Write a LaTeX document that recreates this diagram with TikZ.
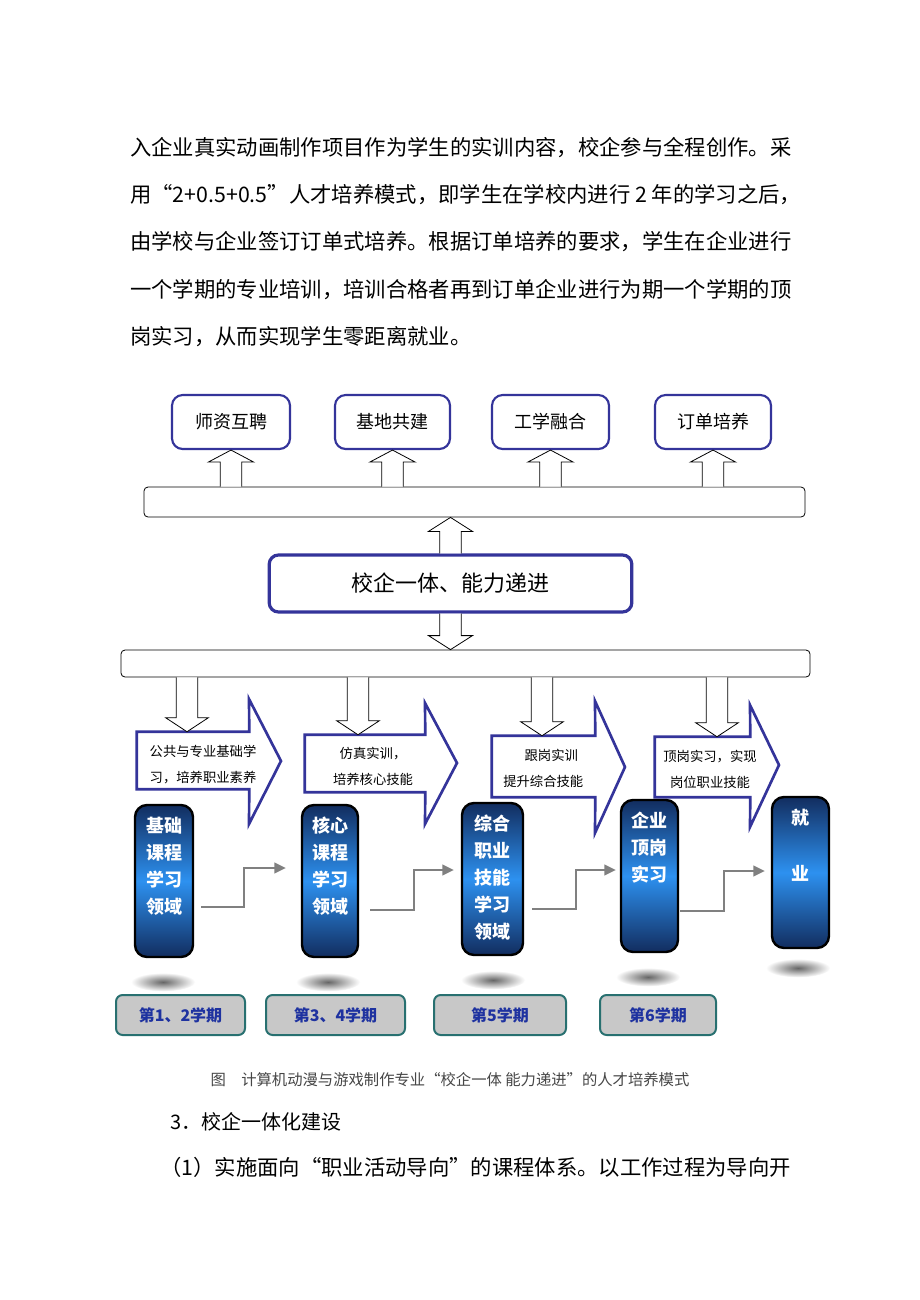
\documentclass[tikz,border=0pt]{standalone}
\usepackage{fontspec}
\setmainfont{Noto Sans CJK SC}
\usetikzlibrary{calc,arrows.meta}
\definecolor{navy}{RGB}{52,52,154}
\definecolor{pdark}{RGB}{18,45,95}
\definecolor{plight}{RGB}{45,145,240}
\definecolor{conngray}{RGB}{128,128,128}
\definecolor{semgray}{RGB}{200,200,200}
\definecolor{semedge}{RGB}{40,112,112}
\definecolor{semblue}{RGB}{30,50,160}
\definecolor{capgray}{RGB}{70,70,70}
\newcommand\vblk[5]{%
  \coordinate (vbS) at (#1);
  \coordinate (vbT) at (#2);
  \coordinate (vbH) at ($(vbT)!#5!(vbS)$);
  \draw[blk] ([xshift=-#3]vbS) -- ([xshift=-#3]vbH) -- ([xshift=-#4]vbH) -- (vbT)
    -- ([xshift=#4]vbH) -- ([xshift=#3]vbH) -- ([xshift=#3]vbS);
}
\begin{document}
\begin{tikzpicture}[x=0.75pt,y=-0.75pt,
  bodytext/.style={anchor=west, inner sep=0, font=\fontsize{16pt}{20pt}\selectfont},
  topbox/.style={draw=navy, line width=1.6pt, rounded corners=8pt, fill=white,
    minimum height=40.5pt, inner sep=0, font=\fontsize{13.5pt}{16pt}\selectfont},
  barbox/.style={draw=black, line width=0.6pt, rounded corners=3pt, fill=white, inner sep=0},
  central/.style={draw=navy, line width=2.4pt, rounded corners=7pt, fill=white,
    minimum width=272pt, minimum height=42.75pt, inner sep=0,
    font=\fontsize{16.5pt}{20pt}\selectfont},
  blk/.style={draw=black, line width=0.6pt, fill=white},
  bigarr/.style={draw=navy, line width=2pt, fill=white, line join=miter},
  bodyrect/.style={inner sep=0},
  atext/.style={align=center, inner sep=0, font=\fontsize{10pt}{19.5pt}\selectfont},
  pillar/.style={draw=black, line width=1.8pt, rounded corners=9pt,
    top color=pdark, bottom color=pdark, middle color=plight, inner sep=0},
  ptext/.style={text=white, align=center, anchor=north, inner sep=0,
    font=\bfseries\fontsize{13.5pt}{20.25pt}\selectfont},
  conn/.style={draw=conngray, line width=1.2pt, -{Triangle[length=8.5pt,width=8pt]}},
  semb/.style={draw=semedge, line width=1.5pt, fill=semgray, rounded corners=5pt,
    minimum height=30pt, inner sep=0, text=semblue,
    font=\bfseries\fontsize{12pt}{14pt}\selectfont},
  captext/.style={inner sep=0, text=capgray, font=\fontsize{11.5pt}{13pt}\selectfont},
  shadowell/.style={inner color=black!60, outer color=white}
]
\useasboundingbox (0,0) rectangle (920,1300);
\fill[white] (0,0) rectangle (920,1300);

% body text
\node[bodytext] (l1) at (130,148) {入企业真实动画制作项目作为学生的实训内容，校企参与全程创作。采};
\node[bodytext] (l2) at (130,195) {用“2+0.5+0.5”人才培养模式，即学生在学校内进行 2 年的学习之后，};
\node[bodytext] (l3) at (130,242) {由学校与企业签订订单式培养。根据订单培养的要求，学生在企业进行};
\node[bodytext] (l4) at (130,290) {一个学期的专业培训，培训合格者再到订单企业进行为期一个学期的顶};
\node[bodytext] (l5) at (130,337) {岗实习，从而实现学生零距离就业。};

% top boxes
\node[topbox, minimum width=88.5pt] (b1) at (231,422) {师资互聘};
\node[topbox, minimum width=86.25pt] (b2) at (392.5,422) {基地共建};
\node[topbox, minimum width=87.75pt] (b3) at (550.5,422) {工学融合};
\node[topbox, minimum width=87pt] (b4) at (713,422) {订单培养};

% bars and central box
\node[barbox, minimum width=495.75pt, minimum height=22.5pt] (bar1) at (474.5,502) {};
\node[central] (ctr) at (450.5,583.5) {校企一体、能力递进};
\node[barbox, minimum width=516.75pt, minimum height=20.25pt] (bar2) at (465.5,663.5) {};

% up arrows to top boxes
\vblk{bar1.north -| b1.south}{b1.south}{8pt}{17pt}{9pt}
\vblk{bar1.north -| b2.south}{b2.south}{8pt}{17pt}{9pt}
\vblk{bar1.north -| b3.south}{b3.south}{8pt}{17pt}{9pt}
\vblk{bar1.north -| b4.south}{b4.south}{8pt}{17pt}{9pt}
% central arrows
\vblk{ctr.north}{ctr.north |- bar1.south}{8pt}{16.5pt}{10.5pt}
\vblk{ctr.south}{ctr.south |- bar2.north}{8pt}{16.5pt}{10.5pt}

% big right arrows
\node[bodyrect, minimum width=84pt, minimum height=42.75pt] (ba1) at (193,760.5) {};
\node[bodyrect, minimum width=90pt, minimum height=42.75pt] (ba2) at (365,763.5) {};
\node[bodyrect, minimum width=77.25pt, minimum height=45.75pt] (ba3) at (543.5,766.5) {};
\node[bodyrect, minimum width=71.25pt, minimum height=45pt] (ba4) at (702.5,767) {};
\draw[bigarr] (ba1.north west) -- (ba1.north east) -- (249,699) -- (281,761) -- (249,824)
  -- (ba1.south east) -- (ba1.south west) -- cycle;
\draw[bigarr] (ba2.north west) -- (ba2.north east) -- (425,703) -- (457,763) -- (425,824)
  -- (ba2.south east) -- (ba2.south west) -- cycle;
\draw[bigarr] (ba3.north west) -- (ba3.north east) -- (595,701) -- (625,767) -- (595,833)
  -- (ba3.south east) -- (ba3.south west) -- cycle;
\draw[bigarr] (ba4.north west) -- (ba4.north east) -- (750,705) -- (779,765) -- (750,827)
  -- (ba4.south east) -- (ba4.south west) -- cycle;

\node[atext] (tx1) at (203,765) {公共与专业基础学\\习，培养职业素养};
\node[atext] (tx2) at (373,766.5) {仿真实训，\\培养核心技能};
\node[atext, align=left, anchor=west] (tx3) at (503,768.5) {\hspace*{1.6em}跟岗实训\\提升综合技能};
\node[atext] (tx4) at (710,769) {顶岗实习，实现\\岗位职业技能};

% down arrows from lower bar
\coordinate (d1) at ($(ba1.north)+(-6,0)$);
\coordinate (d2) at ($(ba2.north)+(-7,0)$);
\coordinate (d3) at ($(ba3.north)+(-1.5,0)$);
\coordinate (d4) at ($(ba4.north)+(14.5,0)$);
\vblk{bar2.south -| d1}{d1}{8pt}{16pt}{10.5pt}
\vblk{bar2.south -| d2}{d2}{8pt}{16pt}{10.5pt}
\vblk{bar2.south -| d3}{d3}{8pt}{16pt}{10.5pt}
\vblk{bar2.south -| d4}{d4}{8pt}{16pt}{10.5pt}

% shadows
\shade[shadowell] (163,982) ellipse [x radius=24pt, y radius=7pt];
\shade[shadowell] (328,982) ellipse [x radius=24pt, y radius=7pt];
\shade[shadowell] (493,980) ellipse [x radius=24pt, y radius=7pt];
\shade[shadowell] (648,977) ellipse [x radius=24pt, y radius=7pt];
\shade[shadowell] (798,968) ellipse [x radius=24pt, y radius=7pt];

% pillars
\node[pillar, minimum width=43.5pt, minimum height=114pt] (p1) at (164,881) {};
\node[pillar, minimum width=42pt, minimum height=114pt] (p2) at (330,881) {};
\node[pillar, minimum width=45.75pt, minimum height=114pt] (p3) at (492.5,879) {};
\node[pillar, minimum width=42.75pt, minimum height=114pt] (p4) at (649.5,876) {};
\node[pillar, minimum width=42.75pt, minimum height=113.25pt] (p5) at (800.5,872.5) {};
\node[ptext] (pt1) at ($(p1.north)+(0,13)$) {基础\\课程\\学习\\领域};
\node[ptext] (pt2) at ($(p2.north)+(0,13)$) {核心\\课程\\学习\\领域};
\node[ptext] (pt3) at ($(p3.north)+(0,13)$) {综合\\职业\\技能\\学习\\领域};
\node[ptext] (pt4) at ($(p4.north)+(0,13)$) {企业\\顶岗\\实习};
\node[ptext] (pt5) at ($(p5.north)+(0,13)$) {就\\[21.75pt]业};

% step connectors
\draw[conn] ($(p1.east)+(7,26)$) -- ++(43,0) |- ($(p2.west)+(-15,-13)$);
\draw[conn] ($(p2.east)+(11,29)$) -- ++(44,0) |- ($(p3.west)+(-7,-9)$);
\draw[conn] ($(p3.east)+(8,30)$) -- ++(44,0) |- ($(p4.west)+(-4,-6)$);
\draw[conn] ($(p4.east)+(1,35)$) -- ++(44,0) |- ($(p5.west)+(-6,-1.5)$);

% semesters
\node[semb, minimum width=96.75pt] (s1) at (180.5,1015) {第1、2学期};
\node[semb, minimum width=104.25pt] (s2) at (335.5,1015) {第3、4学期};
\node[semb, minimum width=99pt] (s3) at (500,1015) {第5学期};
\node[semb, minimum width=87pt] (s4) at (658,1015) {第6学期};

% caption and following text
\node[captext] (cap) at (450,1080) {图\quad 计算机动漫与游戏制作专业“校企一体 能力递进”的人才培养模式};
\node[bodytext, font=\fontsize{15pt}{18pt}\selectfont] (h3) at (170,1122) {3．校企一体化建设};
\node[bodytext] (pp) at (160,1167) {（1）实施面向“职业活动导向”的课程体系。以工作过程为导向开};
\end{tikzpicture}
\end{document}
